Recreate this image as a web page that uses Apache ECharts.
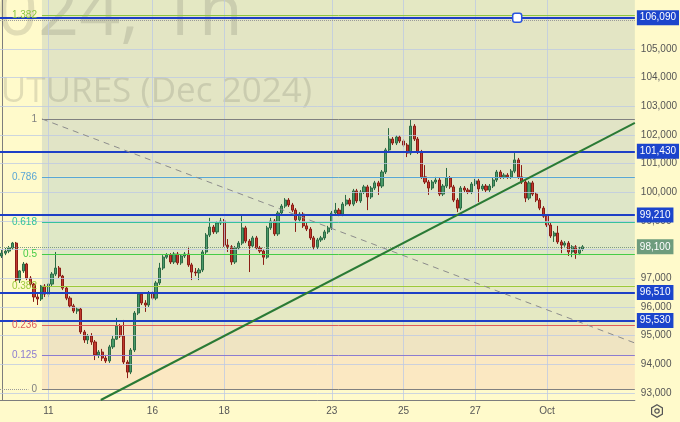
<!DOCTYPE html>
<html><head><meta charset="utf-8">
<script src="https://cdn.jsdelivr.net/npm/echarts@6/dist/echarts.min.js"></script>
<style>html,body{margin:0;padding:0;background:#fffacb;}#c{width:680px;height:422px;}</style>
</head><body><div id="c"></div>
<script>
// ---- data (hourly bars, index = bar number) ----
const OPEN=[97780,97880,97950,98060,98230,96940,97260,97500,97010,96800,96350,96280,96730,96450,96800,97150,97360,97080,96660,96310,96040,95860,95930,95130,94850,94990,94780,94330,94430,94220,94120,94610,94880,95340,94990,94080,93730,94500,95790,96450,96140,96070,96490,96310,96840,97360,97740,97810,97570,97850,97540,97780,97850,97470,97220,97190,97290,97920,98510,98790,98620,98930,99000,98160,98100,97570,98060,98230,98760,98300,98130,98410,98060,97950,97740,98760,99000,98550,99280,99520,99730,99560,99380,99040,99240,98830,98720,98410,98100,98340,98410,98620,98760,99280,99380,99240,99590,99730,99590,100050,99700,100010,100190,99840,100150,100330,100220,100710,101480,101860,101720,101930,101790,101650,101370,102310,101860,101410,100540,100360,100150,100360,100430,99940,100220,100500,100190,99730,99450,100150,100080,100010,100290,100400,100120,100220,100080,100220,100430,100710,100540,100600,100540,100740,101130,100540,100360,99800,100330,99940,99730,99450,99170,98860,98480,98580,98270,98160,98230,97920,98100,97880,98020];
const CLOSE=[97880,97950,98060,98230,96940,97260,97500,97010,96800,96350,96280,96730,96450,96800,97150,97360,97080,96660,96310,96040,95860,95930,95130,94850,94990,94780,94330,94430,94220,94120,94610,94880,95340,94990,94080,93730,94500,95790,96450,96140,96070,96490,96310,96840,97360,97740,97810,97570,97850,97540,97780,97850,97470,97220,97190,97290,97920,98510,98790,98620,98930,99000,98160,98100,97570,98060,98230,98760,98300,98130,98410,98060,97950,97740,98760,99000,98550,99280,99520,99730,99560,99380,99040,99240,98830,98720,98410,98100,98340,98410,98620,98760,99280,99380,99240,99590,99730,99590,100050,99700,100010,100190,99840,100150,100330,100220,100710,101480,101860,101720,101930,101790,101650,101370,102310,101860,101410,100540,100360,100150,100360,100430,99940,100220,100500,100190,99730,99450,100150,100080,100010,100290,100400,100120,100220,100080,100220,100430,100710,100540,100600,100540,100740,101130,100540,100360,99800,100330,99940,99730,99450,99170,98860,98480,98580,98270,98160,98230,97920,98100,97880,98020,98100];
const LOW=[97710,97810,97880,97990,96870,96840,97190,96940,96700,96180,96070,96210,96350,96350,96730,97080,97010,96590,96240,95970,95790,95760,95060,94750,94710,94680,94150,94220,94120,94050,94050,94540,94850,94920,94010,93520,93660,94430,95720,96070,95830,96000,96240,96240,96770,97290,97680,97500,97500,97470,97470,97710,97400,96940,97080,96940,97220,97850,98440,98550,98550,98860,98100,97920,97470,97500,97990,98160,98230,97220,98060,97990,97880,97470,97680,98690,98480,98480,99210,99450,99490,99310,98620,98970,98760,98650,98340,97990,98020,98270,98340,98550,98690,99210,99170,99170,99520,99520,99520,99630,99630,99940,99380,99770,100080,99910,100150,100640,101410,101650,101650,101720,101580,101230,101300,101790,101340,100470,100290,99910,100080,100290,99870,99870,100150,100120,99660,99310,99380,100010,99940,99940,100220,99660,100050,100010,100010,100150,100360,100470,100470,100470,100470,100670,100470,100290,99660,99730,99870,99660,99380,99110,98790,98410,98270,98200,97880,98100,97780,97740,97680,97810,97950];
const HIGH=[97990,98060,98130,98270,98270,97290,97570,97540,97080,96840,96450,96770,96800,96840,97220,97920,97430,97120,96730,96380,96110,96000,95970,95200,95060,95090,94850,94500,94540,94330,94680,94990,95620,95410,95550,94150,94570,95860,96520,96520,96240,96560,96560,96910,97540,97810,97880,97880,97920,97920,97850,97920,98100,97540,97360,97360,97990,98580,99110,98860,99000,99110,99070,98370,98160,98130,98300,99210,98830,98370,98480,98480,98130,98020,98830,99110,99070,99350,99590,99800,99800,99630,99450,99310,99310,98930,98790,98480,98410,98480,98690,98830,99350,99630,99450,99660,99910,99800,100120,100120,100080,100260,100260,100220,100400,100400,100780,101550,102240,101930,102000,102000,101860,101720,102550,102380,101930,101480,100950,100430,100430,100540,100500,100290,100850,100570,100260,99800,100220,100220,100150,100360,100470,100470,100290,100290,100290,100500,100780,100780,100670,100670,100810,101370,101200,100950,100430,100400,100400,100010,99800,99520,99240,98930,98650,98830,98340,98300,98300,98160,98160,98100,98160];

const DAY_TICKS=[13,42,62,92,112,132,152];
const DAY_LABELS=['11','16','18','23','25','27','Oct'];
const PRICE_TICKS=[93000,94000,95000,96000,97000,98000,99000,100000,101000,102000,103000,104000,105000];
const LEVELS=[106090,101430,99210,96510,95530];
const LAST_PRICE=98100;
const FIB_NAMES=['0','0.125','0.236','0.382','0.5','0.618','0.786','1','1.382'];
const FIB_PRICES=[93140,94320,95360,96740,97850,98960,100540,102560,106160];
const FIB_COLORS=['#808080','#8c7cd0','#e05a5a','#9cc93a','#46cc46','#35c29c','#5aa6d6','#808080','#8cc63f'];
const BAND_COLORS=['#fbe8c2','#efe4c2','#e5e9c3','#e1e8c4','#dfe8c6','#dee6c8','#e1e4c6','#e3e5c4'];
const TOP_BAND='#e4e8c3';
const TREND=[[27.6,92757],[176.5,102420]];
const FIB_DIAG=[[11.2,102560],[176.5,94745]];
const HANDLE=[143.7,106090];

// ---- axis extents / layout ----
const X_MIN=-0.5, X_MAX=176.5, Y_MIN=92757, Y_MAX=106709, FIB_X0=11.2;
const FONT='"Liberation Sans", Arial, sans-serif';
const fmt=v=>v.toLocaleString('en-US');

const candles=OPEN.map((o,i)=>[i,o,CLOSE[i],LOW[i],HIGH[i]]);

const bands=[];
for(let i=0;i<FIB_PRICES.length-1;i++){
  bands.push([{coord:[FIB_X0,FIB_PRICES[i+1]],itemStyle:{color:BAND_COLORS[i]}},{coord:[X_MAX,FIB_PRICES[i]]}]);
}
bands.push([{coord:[FIB_X0,Y_MAX],itemStyle:{color:TOP_BAND}},{coord:[X_MAX,FIB_PRICES[FIB_PRICES.length-1]]}]);

const gridLines=[];
PRICE_TICKS.forEach(v=>gridLines.push({yAxis:v}));
DAY_TICKS.forEach(d=>gridLines.push({xAxis:d}));

const fibLines=FIB_PRICES.map((v,i)=>[
  {coord:[FIB_X0,v],lineStyle:{color:FIB_COLORS[i],width:1,type:'solid'},
   label:{show:true,position:'start',distance:5,formatter:FIB_NAMES[i],color:FIB_COLORS[i],fontSize:10,fontFamily:FONT}},
  {coord:[X_MAX,v]}
]);

const levelLines=LEVELS.map(v=>({yAxis:v,lineStyle:{color:'#1d3fc6',width:2,type:'solid'},
  label:{show:true,position:'end',distance:2,formatter:fmt(v),color:'#fff',backgroundColor:'#1c45cc',padding:[3,3,2,3],fontSize:10,fontFamily:FONT}}));

const chart=echarts.init(document.getElementById('c'),null,{renderer:'canvas'});
chart.setOption({
  animation:false,
  backgroundColor:'#fffacb',
  grid:{left:0,right:44,top:0,bottom:22,containLabel:false},
  xAxis:{type:'value',min:X_MIN,max:X_MAX,
    axisLine:{show:true,lineStyle:{color:'#7d7d7d',width:1}},axisTick:{show:false},splitLine:{show:false},
    axisLabel:{customValues:DAY_TICKS,formatter:v=>DAY_LABELS[DAY_TICKS.indexOf(Math.round(v))]||'',color:'#555',fontSize:10,fontFamily:FONT,margin:6}},
  yAxis:{type:'value',position:'right',min:Y_MIN,max:Y_MAX,scale:true,
    axisLine:{show:true,lineStyle:{color:'#7d7d7d',width:1}},axisTick:{show:false},splitLine:{show:false},
    axisLabel:{customValues:PRICE_TICKS,formatter:v=>fmt(v),color:'#555',fontSize:10,fontFamily:FONT,margin:6}},
  graphic:[
    {type:'text',z:1.5,x:243,y:14,style:{text:'SIZ2024, 1h',font:'72px "Open Sans", sans-serif',fill:'rgba(105,105,95,0.2)',align:'right',verticalAlign:'middle'}},
    {type:'text',z:1.5,x:312,y:92,style:{text:'USD/RUB FUTURES (Dec 2024)',font:'35px "Open Sans", sans-serif',fill:'rgba(105,105,95,0.2)',align:'right',verticalAlign:'middle'}},
    {type:'group',x:650,y:404,children:[
      {type:'polygon',shape:{points:[[7,0.8],[12.4,3.9],[12.4,10.1],[7,13.2],[1.6,10.1],[1.6,3.9]]},style:{fill:'none',stroke:'#555',lineWidth:1.2}},
      {type:'circle',shape:{cx:7,cy:7,r:2.2},style:{fill:'none',stroke:'#555',lineWidth:1.2}}
    ]}
  ],
  series:[
    {type:'line',data:[],z:1,silent:true,markArea:{silent:true,data:bands}},
    {type:'line',data:[],z:2,silent:true,markLine:{silent:true,symbol:'none',label:{show:false},
      lineStyle:{color:'rgba(188,200,228,0.75)',width:1,type:'solid'},data:gridLines}},
    {type:'line',data:[],z:3,silent:true,markLine:{silent:true,symbol:'none',lineStyle:{type:'solid'},data:[
      ...fibLines,
      {yAxis:106000,lineStyle:{color:'#9a9a9a',width:1,type:'dotted'},label:{show:false}},
      [{coord:[X_MIN,FIB_PRICES[0]],lineStyle:{color:'#9a9a9a',width:1,type:'dotted'},label:{show:false}},{coord:[7.4,FIB_PRICES[0]]}]
    ]}},
    {type:'candlestick',z:4,data:candles,encode:{x:0,y:[1,2,3,4]},barWidth:'68%',
      itemStyle:{color:'#4a9a68',color0:'#c23a2d',borderColor:'#2c6b45',borderColor0:'#8a1d16',borderWidth:1}},
    {type:'line',data:[],z:5,silent:true,
      markLine:{silent:true,symbol:'none',data:[
        {yAxis:LAST_PRICE,lineStyle:{color:'#7d9c86',width:1,type:'dotted'},
         label:{show:true,position:'end',distance:2,formatter:fmt(LAST_PRICE),color:'#fff',backgroundColor:'#6e9c7d',padding:[3,3,2,3],fontSize:10,fontFamily:FONT}},
        ...levelLines,
        [{coord:FIB_DIAG[0],lineStyle:{color:'#8c8c8c',width:1,type:[6,5]},label:{show:false}},{coord:FIB_DIAG[1]}],
        [{coord:TREND[0],lineStyle:{color:'#2a7a35',width:2,type:'solid'},label:{show:false}},{coord:TREND[1]}]
      ]},
      markPoint:{silent:true,data:[{coord:HANDLE,symbol:'roundRect',symbolSize:9,
        itemStyle:{color:'#ffffff',borderColor:'#2a55e0',borderWidth:1.5},label:{show:false}}]}
    }
  ]
});
</script></body></html>
